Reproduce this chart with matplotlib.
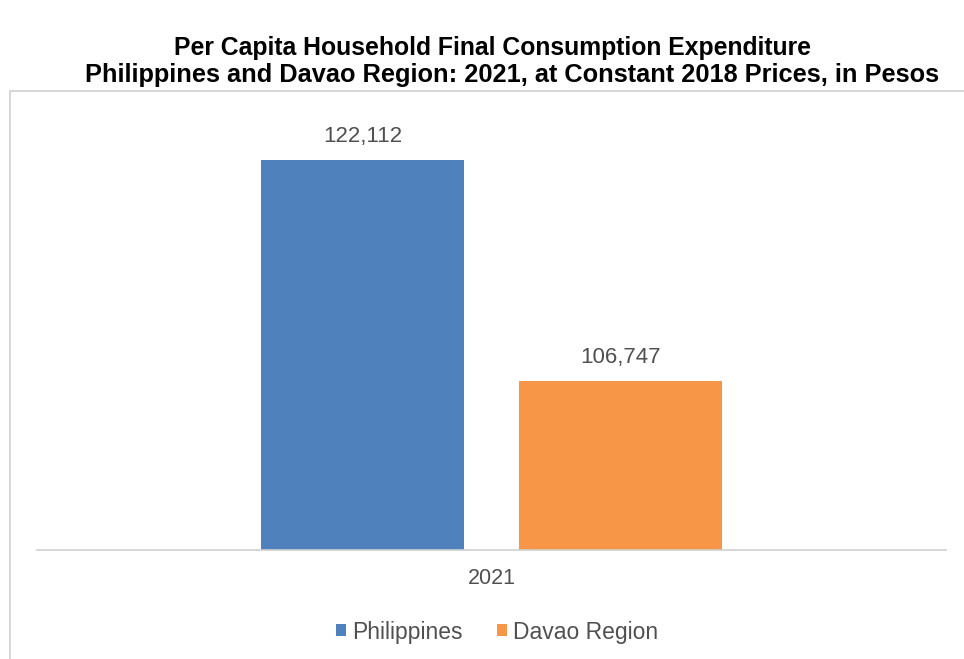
import matplotlib
matplotlib.use("Agg")
import matplotlib.pyplot as plt
from matplotlib.patches import Rectangle

plt.rcParams['font.family'] = ['Liberation Sans', 'DejaVu Sans']

title_line1 = "Per Capita Household Final Consumption Expenditure"
title_line2 = "Philippines and Davao Region: 2021, at Constant 2018 Prices, in Pesos"
categories = ["2021"]
series_names = ["Philippines", "Davao Region"]
philippines = [122112]
davao = [106747]
colors = ["#4F81BD", "#F79646"]

fig = plt.figure(figsize=(9.64, 6.59), dpi=100)
fig.patch.set_facecolor("white")

# chart area border
fig.add_artist(Rectangle((10/964, -0.1), 2.0, (659-91)/659 + 0.1, transform=fig.transFigure,
                         facecolor="white", edgecolor="#D0D0D0", linewidth=1.2, zorder=0))

fig.text(493/964, 1 - 48/659, title_line1, ha="center", va="center",
         fontsize=17.8, fontweight="bold", color="black")
fig.text(512/964, 1 - 75/659, title_line2, ha="center", va="center",
         fontsize=18.3, fontweight="bold", color="black")

ax = fig.add_axes([37/964, (659-549.5)/659, 909/964, 431.5/659])
ax.set_facecolor("none")

width = 0.2233
offset = 0.1417
x = list(range(len(categories)))
b1 = ax.bar([xi - offset for xi in x], philippines, width, color=colors[0], label=series_names[0])
b2 = ax.bar([xi + offset for xi in x], davao, width, color=colors[1], label=series_names[1])

for bars in (b1, b2):
    for r in bars:
        v = r.get_height()
        ax.annotate(f"{v:,.0f}", (r.get_x() + r.get_width()/2, v),
                    xytext=(0, 9), textcoords="offset points", ha="center", va="bottom",
                    fontsize=16, color="#505050")

ax.set_xlim(-0.5, 0.5)
ax.set_ylim(95000, 125000)
ax.set_xticks(x)
ax.set_xticklabels(categories, fontsize=15.5, color="#505050")
ax.tick_params(axis="x", length=0, pad=13)
ax.set_yticks([])
for s in ["top", "right", "left"]:
    ax.spines[s].set_visible(False)
ax.spines["bottom"].set_color("#D0D0D0")
ax.spines["bottom"].set_linewidth(1.2)

leg = fig.legend(handles=[b1, b2], labels=series_names, loc="center",
                 bbox_to_anchor=(497/964, 1 - 632/659), ncol=2, frameon=False,
                 fontsize=16.5, handlelength=0.45, handleheight=0.45, handletextpad=0.25,
                 columnspacing=1.5)
for t in leg.get_texts():
    t.set_color("#505050")

fig.savefig("out.png", dpi=100, facecolor="white")
